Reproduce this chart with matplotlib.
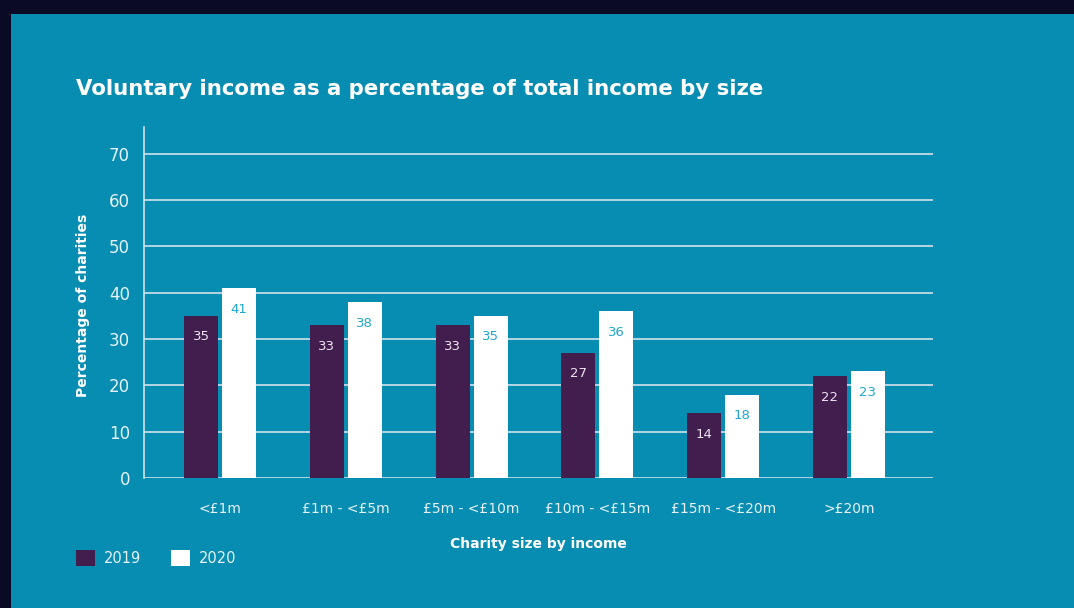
import matplotlib.pyplot as plt
import numpy as np
from matplotlib.patches import Rectangle

# chart data
categories = ['<£1m', '£1m - <£5m', '£5m - <£10m', '£10m - <£15m', '£15m - <£20m', '>£20m']
values_2019 = [35, 33, 33, 27, 14, 22]
values_2020 = [41, 38, 35, 36, 18, 23]
y_ticks = [0, 10, 20, 30, 40, 50, 60, 70]

# colours
teal = '#078db2'
purple = '#421e4e'
grid_col = '#cfe3ea'
label_2019 = '#efe3f0'
label_2020 = '#1ea6cc'

W, H = 1074, 608
fig = plt.figure(figsize=(W / 100, H / 100), dpi=100)
fig.patch.set_facecolor('#0a0a26')
# teal panel over the dark photo
fig.patches.append(Rectangle((11 / W, 0), 1 - 11 / W, 1 - 14 / H, transform=fig.transFigure,
                             facecolor=teal, edgecolor='none', zorder=-10))

ax = fig.add_axes([144 / W, 1 - 478 / H, (933 - 144) / W, (478 - 127) / H])
ax.set_facecolor('none')
ax.set_zorder(2)

x = np.arange(len(categories))
bw = 0.27
off = 0.151
b1 = ax.bar(x - off, values_2019, bw, color=purple, zorder=3, label='2019')
b2 = ax.bar(x + off, values_2020, bw, color='white', zorder=3, label='2020')

# value labels inside top of bars
for rect, v in zip(b1, values_2019):
    ax.annotate(str(v), (rect.get_x() + rect.get_width() / 2, v), xytext=(0, -21),
                textcoords='offset pixels', ha='center', va='center', color=label_2019,
                fontsize=9.5, zorder=4)
for rect, v in zip(b2, values_2020):
    ax.annotate(str(v), (rect.get_x() + rect.get_width() / 2, v), xytext=(0, -21),
                textcoords='offset pixels', ha='center', va='center', color=label_2020,
                fontsize=9.5, zorder=4)

ax.set_xlim(-0.604, len(categories) - 1 + 0.668)
ax.set_ylim(0, 75.8)
ax.set_yticks(y_ticks)
ax.yaxis.grid(True, color=grid_col, linewidth=1.2, zorder=1)
ax.set_axisbelow(True)
ax.set_xticks(x)
ax.set_xticklabels(categories)
ax.tick_params(axis='both', length=0, colors='#e6f2f6')
ax.tick_params(axis='y', labelsize=12, pad=10)
ax.tick_params(axis='x', labelsize=10, pad=17)

for s in ['top', 'right', 'bottom']:
    ax.spines[s].set_visible(False)
ax.spines['left'].set_color(grid_col)
ax.spines['left'].set_linewidth(1.2)

# titles and axis names
fig.text(76 / W, 1 - 89 / H, 'Voluntary income as a percentage of total income by size',
         fontsize=15.3, fontweight='bold', color='white', va='center', ha='left')
fig.text(83 / W, 1 - 305 / H, 'Percentage of charities', rotation=90, fontsize=10,
         fontweight='bold', color='white', va='center', ha='center')
fig.text(538 / W, 1 - 544 / H, 'Charity size by income', fontsize=10,
         fontweight='bold', color='white', va='center', ha='center')

# legend
leg = fig.legend(handles=[b1, b2], labels=['2019', '2020'], loc='center left',
                 bbox_to_anchor=(63 / W, 1 - 558 / H), ncol=2, frameon=False,
                 fontsize=10.5, labelcolor='#e6f2f6', handlelength=1.3, handleheight=1.3,
                 handletextpad=0.6, columnspacing=2.05)

fig.savefig('out.png', dpi=100, facecolor=fig.get_facecolor())
